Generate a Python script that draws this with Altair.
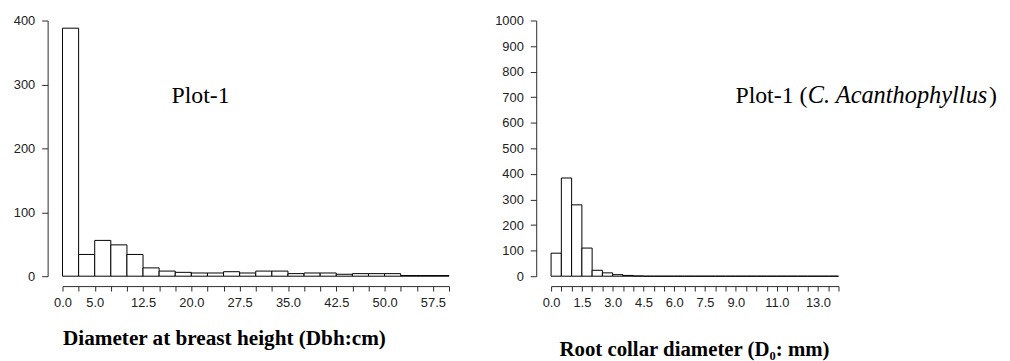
import altair as alt
import pandas as pd

# ---- Left panel: Diameter at breast height (bins of 2.5 cm) ----
dbh_bin_start = [0.0, 2.5, 5.0, 7.5, 10.0, 12.5, 15.0, 17.5, 20.0, 22.5, 25.0, 27.5,
                 30.0, 32.5, 35.0, 37.5, 40.0, 42.5, 45.0, 47.5, 50.0, 52.5, 55.0, 57.5]
dbh_bin_end = [2.5, 5.0, 7.5, 10.0, 12.5, 15.0, 17.5, 20.0, 22.5, 25.0, 27.5, 30.0,
               32.5, 35.0, 37.5, 40.0, 42.5, 45.0, 47.5, 50.0, 52.5, 55.0, 57.5, 60.0]
dbh_counts = [388, 34, 56, 49, 34, 13, 8, 6, 5, 5, 7, 5, 8, 8, 4, 5, 5, 3, 4, 4, 4, 1, 1, 1]
dbh_tick_values = [0.0, 2.5, 5.0, 7.5, 10.0, 12.5, 15.0, 17.5, 20.0, 22.5, 25.0, 27.5, 30.0,
                   32.5, 35.0, 37.5, 40.0, 42.5, 45.0, 47.5, 50.0, 52.5, 55.0, 57.5, 60.0]
dbh_tick_labels = [0, 5, 12.5, 20, 27.5, 35, 42.5, 50, 57.5]
dbh_y_ticks = [0, 100, 200, 300, 400]
dbh_title = "Diameter at breast height (Dbh:cm)"
dbh_note = ["Plot-1"]

# ---- Right panel: Root collar diameter (bins of 0.5 mm) ----
rcd_bin_start = [0.0, 0.5, 1.0, 1.5, 2.0, 2.5, 3.0, 3.5, 4.0, 4.5, 5.0, 5.5, 6.0, 6.5,
                 7.0, 7.5, 8.0, 8.5, 9.0, 9.5, 10.0, 10.5, 11.0, 11.5, 12.0, 12.5, 13.0, 13.5]
rcd_bin_end = [0.5, 1.0, 1.5, 2.0, 2.5, 3.0, 3.5, 4.0, 4.5, 5.0, 5.5, 6.0, 6.5, 7.0,
               7.5, 8.0, 8.5, 9.0, 9.5, 10.0, 10.5, 11.0, 11.5, 12.0, 12.5, 13.0, 13.5, 14.0]
rcd_counts = [90, 384, 279, 110, 23, 13, 6, 3, 1, 0, 0, 0, 0, 0,
              0, 0, 0, 0, 0, 0, 0, 0, 0, 0, 0, 0, 0, 0]
rcd_tick_values = [0.0, 0.5, 1.0, 1.5, 2.0, 2.5, 3.0, 3.5, 4.0, 4.5, 5.0, 5.5, 6.0, 6.5, 7.0,
                   7.5, 8.0, 8.5, 9.0, 9.5, 10.0, 10.5, 11.0, 11.5, 12.0, 12.5, 13.0, 13.5, 14.0]
rcd_tick_labels = [0, 1.5, 3, 4.5, 6, 7.5, 9, 11, 13]
rcd_y_ticks = [0, 100, 200, 300, 400, 500, 600, 700, 800, 900, 1000]
rcd_title = "Root collar diameter (D\u2080: mm)"
rcd_note = ["Plot-1 (", "C. Acanthophyllus", ")"]

AXIS_COLOR = "#2b2b2b"
LABEL_COLOR = "#222222"
SANS = "Liberation Sans"
SERIF = "Liberation Serif"


def x_axis(values, labels, title, title_x, title_y, title_size):
    arr = ",".join(str(v) for v in labels)
    expr = f"indexof([{arr}], datum.value) >= 0 ? format(datum.value, '.1f') : ''"
    return alt.Axis(values=values, labelExpr=expr, labelOverlap=False, labelFlush=False,
                    offset=10, tickSize=5, grid=False,
                    domainColor=AXIS_COLOR, tickColor=AXIS_COLOR, labelColor=LABEL_COLOR,
                    labelFont=SANS, labelFontSize=13, labelPadding=6,
                    title=title, titleFont=SERIF, titleFontSize=title_size, titleFontWeight="bold",
                    titleColor="black", titleAnchor="start", titleAlign="left",
                    titleX=title_x, titleY=title_y, titleBaseline="alphabetic")


def y_axis(values):
    return alt.Axis(values=values, format="d", offset=15, tickSize=6, grid=False, title=None,
                    domainColor=AXIS_COLOR, tickColor=AXIS_COLOR, labelColor=LABEL_COLOR,
                    labelFont=SANS, labelFontSize=13, labelPadding=7)


def panel(starts, ends, counts, xdom, ydom, ticks, labels, yticks, title, title_x, title_y,
          title_size, w, h):
    df = pd.DataFrame({"start": starts, "end": ends, "count": counts})
    return alt.Chart(df).mark_rect(fill="white", stroke="black", strokeWidth=1).encode(
        x=alt.X("start:Q", scale=alt.Scale(domain=xdom, nice=False, zero=True),
                axis=x_axis(ticks, labels, title, title_x, title_y, title_size)),
        x2="end:Q",
        y=alt.Y("count:Q", scale=alt.Scale(domain=ydom, nice=False), axis=y_axis(yticks)),
        y2=alt.datum(0),
    ).properties(width=w, height=h)


left_bars = panel(dbh_bin_start, dbh_bin_end, dbh_counts, [0, 60], [0, 400],
                  dbh_tick_values, dbh_tick_labels, dbh_y_ticks, dbh_title, 0, 59, 21.4, 390, 258)
left_note = alt.Chart(pd.DataFrame({"t": dbh_note})).mark_text(
    align="left", baseline="alphabetic", font=SERIF, fontSize=24, color="black"
).encode(text="t:N", x=alt.value(110), y=alt.value(83))
left = alt.layer(left_bars, left_note)

right_bars = panel(rcd_bin_start, rcd_bin_end, rcd_counts, [0, 14], [0, 1000],
                   rcd_tick_values, rcd_tick_labels, rcd_y_ticks, rcd_title, 8, 70, 21, 290, 258)
note_x = [186, 259, 442]
note_style = ["normal", "italic", "normal"]
note_size = [24, 24.6, 24]
right_notes = []
for txt, nx, st, fs in zip(rcd_note, note_x, note_style, note_size):
    right_notes.append(
        alt.Chart(pd.DataFrame({"t": [txt]})).mark_text(
            align="left", baseline="alphabetic", font=SERIF, fontSize=fs, color="black",
            fontStyle=st
        ).encode(text="t:N", x=alt.value(nx), y=alt.value(83))
    )
right = alt.layer(right_bars, *right_notes)

chart = alt.hconcat(left, right, spacing=45).configure_view(stroke=None)
chart.save("out.html", embed_options={"renderer": "svg", "actions": False})
